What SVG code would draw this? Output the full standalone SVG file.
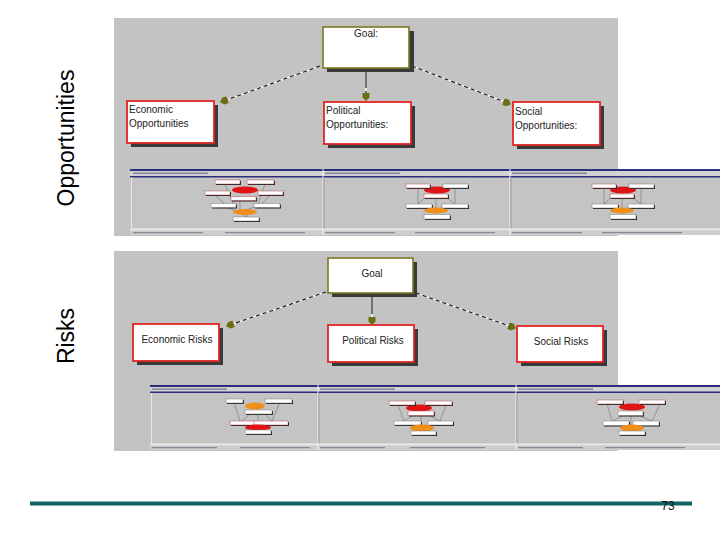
<svg xmlns="http://www.w3.org/2000/svg" width="720" height="540" viewBox="0 0 720 540">
<defs>
<style>
.panel{fill:#c3c3c3}
.shadow{fill:#3a3a3a}
.goal{fill:#fff;stroke:#7a7a1e;stroke-width:1.6}
.sub{fill:#fff;stroke:#e02525;stroke-width:1.8}
.t9{font-family:"Liberation Sans",Arial,sans-serif;font-size:10px;fill:#222}
.t10{font-family:"Liberation Sans",Arial,sans-serif;font-size:10px;fill:#222}
.side{font-family:"Liberation Sans",Arial,sans-serif;font-size:23px;fill:#000}
.under{stroke:#fff;stroke-width:1.2;fill:none}
.dash{stroke:#111;stroke-width:1.1;stroke-dasharray:4 3;fill:none}
.solid{stroke:#111;stroke-width:1.1;fill:none}
.tb{fill:#2d2d7d}
.tl{fill:#d2d2d2}
.tc{fill:#c4c4c4}
.tx{fill:#6a6a80;opacity:.7}
.sc{fill:#ececec}
.st{fill:#cdcdcd}
.mb{fill:#fff;stroke:#b04848;stroke-width:.5}
.mbw{fill:#fff;stroke:#777;stroke-width:.5}
.ms{fill:#222}
.re{fill:#e01414}
.oe{fill:#f0901a}
.ml{stroke:#555;stroke-width:.45;fill:none}
</style>
<marker id="arr" viewBox="0 0 8 8" refX="7" refY="4" markerWidth="8" markerHeight="8" markerUnits="userSpaceOnUse" orient="auto">
<path d="M0,0.5 L4.5,0.5 L8,4 L4.5,7.5 L0,7.5 Z" fill="#6e6e14"/>
</marker>
</defs>

<!-- side labels -->
<text class="side" text-anchor="middle" transform="translate(74,138) rotate(-90)">Opportunities</text>
<text class="side" text-anchor="middle" transform="translate(74,336) rotate(-90)">Risks</text>

<!-- panels -->
<rect class="panel" x="114" y="18" width="504" height="218"/>
<rect class="panel" x="114" y="251" width="504" height="200"/>

<!-- connectors -->
<g id="connectors">
<line class="under" x1="320" y1="66" x2="221" y2="102"/>
<line class="dash" x1="320" y1="66" x2="221" y2="102" marker-end="url(#arr)"/>
<line class="under" x1="366" y1="69" x2="366" y2="100"/>
<line class="solid" x1="366" y1="69" x2="366" y2="84"/>
<line class="dash" x1="366" y1="84" x2="366" y2="100" marker-end="url(#arr)"/>
<line class="under" x1="412" y1="66" x2="510" y2="104"/>
<line class="dash" x1="412" y1="66" x2="510" y2="104" marker-end="url(#arr)"/>

<line class="under" x1="326" y1="292" x2="227" y2="326"/>
<line class="dash" x1="326" y1="292" x2="227" y2="326" marker-end="url(#arr)"/>
<line class="under" x1="372" y1="296" x2="372" y2="324"/>
<line class="solid" x1="372" y1="296" x2="372" y2="310"/>
<line class="dash" x1="372" y1="310" x2="372" y2="324" marker-end="url(#arr)"/>
<line class="under" x1="416" y1="293" x2="515" y2="328"/>
<line class="dash" x1="416" y1="293" x2="515" y2="328" marker-end="url(#arr)"/>
</g>

<!-- top diagram nodes -->
<g id="goal-opp">
<rect class="shadow" x="327" y="31" width="87" height="41"/>
<rect class="goal" x="323" y="27" width="86" height="41"/>
<text class="t9" x="366" y="37" text-anchor="middle">Goal:</text>
</g>
<g id="economic-opp">
<rect class="shadow" x="131" y="105" width="87" height="42"/>
<rect class="sub" x="127" y="101" width="87" height="42"/>
<text class="t9" x="129" y="113">Economic</text>
<text class="t9" x="129" y="127">Opportunities</text>
</g>
<g id="political-opp">
<rect class="shadow" x="328" y="106" width="87" height="42"/>
<rect class="sub" x="324" y="102" width="87" height="42"/>
<text class="t9" x="326" y="114">Political</text>
<text class="t9" x="326" y="128">Opportunities:</text>
</g>
<g id="social-opp">
<rect class="shadow" x="517" y="106" width="87" height="43"/>
<rect class="sub" x="513" y="102" width="87" height="43"/>
<text class="t9" x="515" y="115">Social</text>
<text class="t9" x="515" y="129">Opportunities:</text>
</g>

<!-- bottom diagram nodes -->
<g id="goal-risk">
<rect class="shadow" x="332" y="262" width="85" height="35"/>
<rect class="goal" x="328" y="258" width="85" height="35"/>
<text class="t10" x="372" y="277" text-anchor="middle">Goal</text>
</g>
<g id="economic-risk">
<rect class="shadow" x="137" y="328" width="86" height="37"/>
<rect class="sub" x="133" y="324" width="86" height="37"/>
<text class="t10" x="177" y="343" text-anchor="middle">Economic Risks</text>
</g>
<g id="political-risk">
<rect class="shadow" x="332" y="329" width="86" height="37"/>
<rect class="sub" x="328" y="325" width="86" height="37"/>
<text class="t10" x="373" y="344" text-anchor="middle">Political Risks</text>
</g>
<g id="social-risk">
<rect class="shadow" x="521" y="330" width="86" height="36"/>
<rect class="sub" x="517" y="326" width="86" height="36"/>
<text class="t10" x="561" y="345" text-anchor="middle">Social Risks</text>
</g>

<!-- top thumbnail strip -->
<g id="thumbs-top">
<rect class="tc" x="130" y="169" width="590" height="66"/>
<rect class="tb" x="130" y="169" width="590" height="2"/>
<rect class="tl" x="130" y="171" width="590" height="5"/>
<rect class="tb" x="130" y="176" width="590" height="1.5"/>
<rect class="sc" x="130" y="228.5" width="590" height="2"/>
<rect class="st" x="130" y="230.5" width="590" height="4.5"/>
<rect class="tx" x="133" y="172.5" width="75" height="1.6"/>
<rect class="tx" x="325" y="172.5" width="75" height="1.6"/>
<rect class="tx" x="512" y="172.5" width="75" height="1.6"/>
<rect class="tx" x="133" y="232" width="70" height="1.2"/>
<rect class="tx" x="225" y="232" width="80" height="1.2"/>
<rect class="tx" x="325" y="232" width="70" height="1.2"/>
<rect class="tx" x="415" y="232" width="80" height="1.2"/>
<rect class="tx" x="512" y="232" width="70" height="1.2"/>
<rect class="tx" x="602" y="232" width="80" height="1.2"/>
<rect x="131" y="177.5" width="0.8" height="51" fill="#f0f0f0"/>
<rect x="322.5" y="169" width="1" height="66" fill="#f4f4f4"/>
<rect x="323.5" y="177.5" width="0.8" height="51" fill="#888"/>
<rect x="509.5" y="169" width="1" height="66" fill="#f4f4f4"/>
<rect x="510.5" y="177.5" width="0.8" height="51" fill="#888"/>

<!-- mini 1 -->
<g>
<path class="ml" d="M225,184 L233,204 M265,184 L258,204 M215,195 L225,204 M270,195 L262,204 M240,200 L240,212 M225,207 L240,212 L255,207 M240,212 L246,217 M250,212 L246,217"/>
<ellipse class="re" cx="245" cy="190" rx="13" ry="3.5"/>
<rect class="ms" x="216" y="181" width="25" height="4"/><rect class="mb" x="215" y="180" width="25" height="4"/>
<rect class="ms" x="248" y="181" width="27" height="4"/><rect class="mb" x="247" y="180" width="27" height="4"/>
<rect class="ms" x="206" y="192" width="25" height="4"/><rect class="mb" x="205" y="191" width="25" height="4"/>
<rect class="ms" x="259" y="192" width="25" height="4"/><rect class="mb" x="258" y="191" width="25" height="4"/>
<rect class="ms" x="232" y="197.5" width="25" height="4"/><rect class="mb" x="231" y="196.5" width="25" height="4"/>
<rect class="ms" x="212" y="204.5" width="25" height="4"/><rect class="mbw" x="211" y="203.5" width="25" height="4"/>
<rect class="ms" x="255" y="204.5" width="26" height="4"/><rect class="mbw" x="254" y="203.5" width="26" height="4"/>
<ellipse class="oe" cx="245" cy="212" rx="12" ry="3"/>
<rect class="ms" x="234" y="218" width="26" height="4"/><rect class="mbw" x="233" y="217" width="26" height="4"/>
</g>
<!-- mini 2 -->
<g id="mini-pol">
<path class="ml" d="M418,188 L418,204 M455,188 L455,204 M425,198 L418,204 M447,198 L455,204 M436,198 L436,214 M430,207 L436,212 L442,207"/>
<ellipse class="re" cx="437" cy="190" rx="13" ry="3.5"/>
<rect class="ms" x="407" y="185" width="24" height="4"/><rect class="mb" x="406" y="184" width="24" height="4"/>
<rect class="ms" x="444" y="185" width="25" height="4"/><rect class="mbw" x="443" y="184" width="25" height="4"/>
<rect class="ms" x="425" y="195" width="24" height="4"/><rect class="mb" x="424" y="194" width="24" height="4"/>
<rect class="ms" x="407" y="205" width="26" height="4"/><rect class="mbw" x="406" y="204" width="26" height="4"/>
<rect class="ms" x="443" y="205" width="26" height="4"/><rect class="mbw" x="442" y="204" width="26" height="4"/>
<ellipse class="oe" cx="436" cy="210.5" rx="12" ry="3"/>
<rect class="ms" x="425" y="215.5" width="26" height="4.5"/><rect class="mbw" x="424" y="214.5" width="26" height="4.5"/>
</g>
<!-- mini 3 -->
<g transform="translate(186,0)">
<path class="ml" d="M418,188 L418,204 M455,188 L455,204 M425,198 L418,204 M447,198 L455,204 M436,198 L436,214 M430,207 L436,212 L442,207"/>
<ellipse class="re" cx="437" cy="190" rx="13" ry="3.5"/>
<rect class="ms" x="407" y="185" width="24" height="4"/><rect class="mb" x="406" y="184" width="24" height="4"/>
<rect class="ms" x="444" y="185" width="25" height="4"/><rect class="mbw" x="443" y="184" width="25" height="4"/>
<rect class="ms" x="425" y="195" width="24" height="4"/><rect class="mb" x="424" y="194" width="24" height="4"/>
<rect class="ms" x="407" y="205" width="26" height="4"/><rect class="mbw" x="406" y="204" width="26" height="4"/>
<rect class="ms" x="443" y="205" width="26" height="4"/><rect class="mbw" x="442" y="204" width="26" height="4"/>
<ellipse class="oe" cx="436" cy="210.5" rx="12" ry="3"/>
<rect class="ms" x="425" y="215.5" width="26" height="4.5"/><rect class="mbw" x="424" y="214.5" width="26" height="4.5"/>
</g>
</g>

<!-- bottom thumbnail strip -->
<g id="thumbs-bottom">
<rect class="tc" x="150" y="385" width="570" height="65"/>
<rect class="tb" x="150" y="385" width="570" height="2"/>
<rect class="tl" x="150" y="387" width="570" height="4.5"/>
<rect class="tb" x="150" y="391.5" width="570" height="1.5"/>
<rect class="sc" x="150" y="443.5" width="570" height="2"/>
<rect class="st" x="150" y="445.5" width="570" height="4.5"/>
<rect class="tx" x="152" y="388.3" width="75" height="1.6"/>
<rect class="tx" x="320" y="388.3" width="75" height="1.6"/>
<rect class="tx" x="518" y="388.3" width="75" height="1.6"/>
<rect class="tx" x="152" y="447" width="65" height="1.2"/>
<rect class="tx" x="240" y="447" width="70" height="1.2"/>
<rect class="tx" x="320" y="447" width="65" height="1.2"/>
<rect class="tx" x="410" y="447" width="75" height="1.2"/>
<rect class="tx" x="518" y="447" width="65" height="1.2"/>
<rect class="tx" x="605" y="447" width="80" height="1.2"/>
<rect x="151" y="393" width="0.8" height="50.5" fill="#f0f0f0"/>
<rect x="317.5" y="385" width="1" height="65" fill="#f4f4f4"/>
<rect x="318.5" y="393" width="0.8" height="50.5" fill="#888"/>
<rect x="515.5" y="385" width="1" height="65" fill="#f4f4f4"/>
<rect x="516.5" y="393" width="0.8" height="50.5" fill="#888"/>

<!-- mini b1 -->
<g>
<path class="ml" d="M234,402 L240,421 M280,402 L272,421 M250,414 L242,421 M265,414 L272,421 M258,414 L258,430 M236,425 L258,427 L278,425"/>
<ellipse class="oe" cx="255" cy="406" rx="10" ry="3.5"/>
<rect class="ms" x="227" y="400" width="17" height="4"/><rect class="mbw" x="226" y="399" width="17" height="4"/>
<rect class="ms" x="266" y="400" width="27" height="4"/><rect class="mbw" x="265" y="399" width="27" height="4"/>
<rect class="ms" x="246" y="411" width="27" height="4"/><rect class="mbw" x="245" y="410" width="27" height="4"/>
<rect class="ms" x="231" y="422" width="25" height="4"/><rect class="mb" x="230" y="421" width="25" height="4"/>
<rect class="ms" x="255" y="422" width="34" height="4"/><rect class="mb" x="254" y="421" width="34" height="4"/>
<ellipse class="re" cx="258" cy="427.5" rx="13" ry="3"/>
<rect class="ms" x="246" y="431" width="26" height="4"/><rect class="mbw" x="245" y="430" width="26" height="4"/>
</g>
<!-- mini b2 -->
<g>
<path class="ml" d="M398,405 L404,421 M446,405 L440,421 M412,416 L404,421 M430,416 L440,421 M421,416 L421,431 M410,425 L421,428 L432,425"/>
<ellipse class="re" cx="419" cy="408" rx="13" ry="3.5"/>
<rect class="ms" x="390" y="402" width="26" height="4"/><rect class="mb" x="389" y="401" width="26" height="4"/>
<rect class="ms" x="426" y="402" width="27" height="4"/><rect class="mb" x="425" y="401" width="27" height="4"/>
<rect class="ms" x="409" y="412" width="26" height="4.5"/><rect class="mb" x="408" y="411" width="26" height="4.5"/>
<rect class="ms" x="395" y="422" width="27" height="4"/><rect class="mbw" x="394" y="421" width="27" height="4"/>
<rect class="ms" x="429" y="422" width="25" height="4"/><rect class="mbw" x="428" y="421" width="25" height="4"/>
<ellipse class="oe" cx="422" cy="428" rx="12" ry="3.5"/>
<rect class="ms" x="412" y="432" width="25" height="4"/><rect class="mbw" x="411" y="431" width="25" height="4"/>
</g>
<!-- mini b3 -->
<g>
<path class="ml" d="M607,404 L612,421 M660,404 L652,421 M622,416 L612,421 M640,416 L652,421 M631,416 L631,431 M618,425 L631,428 L644,425"/>
<ellipse class="re" cx="632" cy="407" rx="13" ry="3.5"/>
<rect class="ms" x="598" y="401" width="26" height="4"/><rect class="mb" x="597" y="400" width="26" height="4"/>
<rect class="ms" x="640" y="401" width="26" height="4"/><rect class="mb" x="639" y="400" width="26" height="4"/>
<rect class="ms" x="619" y="412" width="25" height="4.5"/><rect class="mbw" x="618" y="411" width="25" height="4.5"/>
<rect class="ms" x="604" y="422" width="26" height="4.5"/><rect class="mbw" x="603" y="421" width="26" height="4.5"/>
<rect class="ms" x="634" y="422" width="26" height="4.5"/><rect class="mbw" x="633" y="421" width="26" height="4.5"/>
<ellipse class="oe" cx="632" cy="428" rx="12" ry="3.5"/>
<rect class="ms" x="620" y="432" width="26" height="4"/><rect class="mbw" x="619" y="431" width="26" height="4"/>
</g>
</g>

<!-- footer -->
<rect x="30" y="501.5" width="662" height="4" fill="#116464"/>
<text x="668" y="510" text-anchor="middle" font-family="'Liberation Sans',Arial,sans-serif" font-size="12" fill="#111">73</text>
</svg>
